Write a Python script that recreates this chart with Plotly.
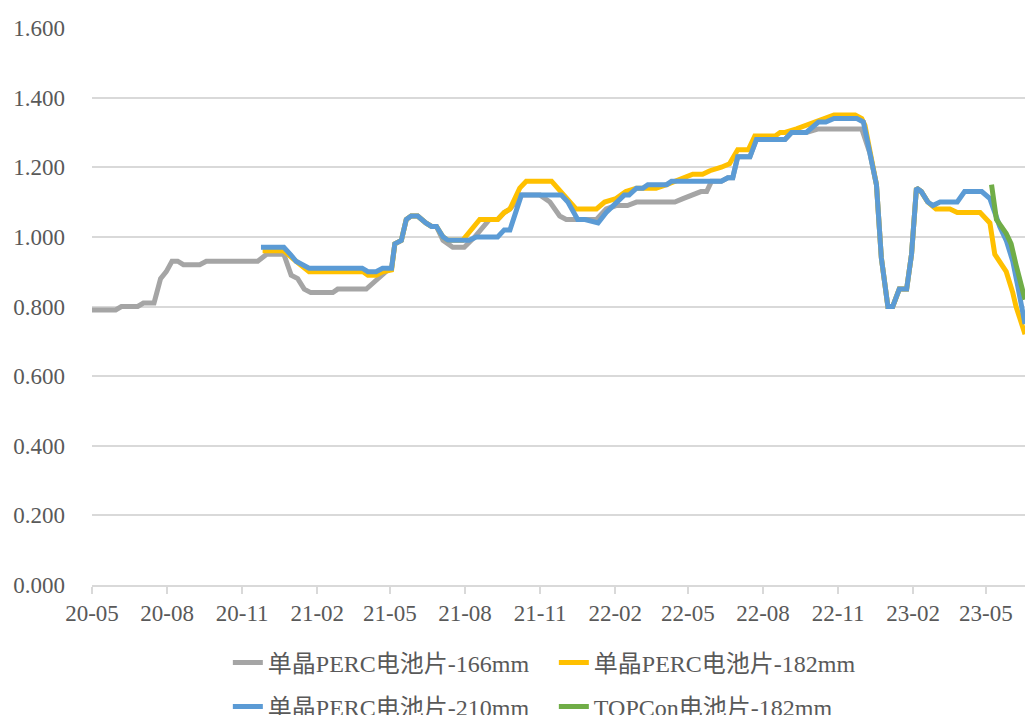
import plotly.graph_objects as go

# ---------------- data (weekly prices) ----------------
dates_166 = ["2020-05-01", "2020-05-30", "2020-06-06", "2020-06-26", "2020-07-03", "2020-07-16",
             "2020-07-24", "2020-07-31", "2020-08-07", "2020-08-14", "2020-08-21", "2020-09-10",
             "2020-09-18", "2020-11-20", "2020-12-01", "2020-12-22", "2020-12-31", "2021-01-08",
             "2021-01-16", "2021-01-24", "2021-02-20", "2021-02-26", "2021-04-02", "2021-04-12",
             "2021-04-20", "2021-04-26", "2021-05-03", "2021-05-07", "2021-05-15", "2021-05-21",
             "2021-05-27", "2021-06-04", "2021-06-14", "2021-06-21", "2021-06-27", "2021-07-05",
             "2021-07-17", "2021-07-31", "2021-08-13", "2021-08-23", "2021-08-31", "2021-09-10",
             "2021-09-18", "2021-09-25", "2021-10-09", "2021-11-01", "2021-11-13", "2021-11-25",
             "2021-12-03", "2022-01-09", "2022-01-21", "2022-02-02", "2022-02-16", "2022-02-27",
             "2022-04-15", "2022-04-25", "2022-05-07", "2022-05-17", "2022-05-24", "2022-05-30",
             "2022-06-11", "2022-06-19", "2022-06-25", "2022-07-01", "2022-07-16", "2022-07-24",
             "2022-08-28", "2022-09-05", "2022-09-23", "2022-10-08", "2022-11-30", "2022-12-10",
             "2022-12-18", "2022-12-24", "2023-01-01", "2023-01-07", "2023-01-15", "2023-01-24",
             "2023-01-30", "2023-02-05", "2023-02-11", "2023-02-19"]
perc_166 = [0.79, 0.79, 0.80, 0.80, 0.81, 0.81,
            0.88, 0.90, 0.93, 0.93, 0.92, 0.92,
            0.93, 0.93, 0.95, 0.95, 0.89, 0.88,
            0.85, 0.84, 0.84, 0.85, 0.85, 0.87,
            0.89, 0.90, 0.91, 0.98, 0.99, 1.05,
            1.06, 1.06, 1.04, 1.03, 1.03, 0.99,
            0.97, 0.97, 1.00, 1.03, 1.05, 1.05,
            1.07, 1.08, 1.12, 1.12, 1.10, 1.06,
            1.05, 1.05, 1.08, 1.09, 1.09, 1.10,
            1.10, 1.11, 1.12, 1.13, 1.13, 1.16,
            1.16, 1.17, 1.17, 1.23, 1.23, 1.28,
            1.28, 1.30, 1.30, 1.31, 1.31, 1.24,
            1.15, 0.94, 0.80, 0.80, 0.85, 0.85,
            0.95, 1.14, 1.13, 1.10]

dates_182 = ["2020-11-26", "2020-12-22", "2021-01-06", "2021-01-22", "2021-03-29", "2021-04-04",
             "2021-04-14", "2021-04-22", "2021-05-03", "2021-05-07", "2021-05-15", "2021-05-21",
             "2021-05-27", "2021-06-04", "2021-06-14", "2021-06-21", "2021-06-27", "2021-07-05",
             "2021-07-11", "2021-07-29", "2021-08-19", "2021-09-10", "2021-09-18", "2021-09-25",
             "2021-10-07", "2021-10-15", "2021-11-15", "2021-11-23", "2021-12-07", "2021-12-15",
             "2022-01-09", "2022-01-19", "2022-02-02", "2022-02-14", "2022-02-27", "2022-03-23",
             "2022-04-05", "2022-04-25", "2022-05-07", "2022-05-19", "2022-05-28", "2022-06-11",
             "2022-06-21", "2022-07-01", "2022-07-14", "2022-07-22", "2022-08-16", "2022-08-22",
             "2022-08-28", "2022-09-11", "2022-09-23", "2022-10-06", "2022-10-17", "2022-10-27",
             "2022-11-22", "2022-11-30", "2022-12-04", "2022-12-10", "2022-12-18", "2022-12-24",
             "2023-01-01", "2023-01-07", "2023-01-15", "2023-01-24", "2023-01-30", "2023-02-05",
             "2023-02-11", "2023-02-19", "2023-03-01", "2023-03-18", "2023-03-27", "2023-04-24",
             "2023-05-06", "2023-05-12", "2023-05-26", "2023-06-03", "2023-06-07", "2023-06-18"]
perc_182 = [0.96, 0.96, 0.93, 0.90, 0.90, 0.89,
            0.89, 0.90, 0.905, 0.98, 0.99, 1.05,
            1.06, 1.06, 1.04, 1.03, 1.03, 1.00,
            0.99, 0.99, 1.05, 1.05, 1.07, 1.08,
            1.14, 1.16, 1.16, 1.14, 1.10, 1.08,
            1.08, 1.10, 1.11, 1.13, 1.14, 1.14,
            1.15, 1.17, 1.18, 1.18, 1.19, 1.20,
            1.21, 1.25, 1.25, 1.29, 1.29, 1.30,
            1.30, 1.31, 1.32, 1.33, 1.34, 1.35,
            1.35, 1.34, 1.32, 1.24, 1.15, 0.94,
            0.80, 0.80, 0.85, 0.85, 0.95, 1.14,
            1.13, 1.10, 1.08, 1.08, 1.07, 1.07,
            1.04, 0.95, 0.90, 0.84, 0.80, 0.72]

dates_210 = ["2020-11-24", "2020-12-22", "2020-12-30", "2021-01-06", "2021-01-14", "2021-01-22",
             "2021-03-28", "2021-04-04", "2021-04-14", "2021-04-22", "2021-05-03", "2021-05-07",
             "2021-05-15", "2021-05-21", "2021-05-27", "2021-06-04", "2021-06-14", "2021-06-21",
             "2021-06-27", "2021-07-05", "2021-07-11", "2021-08-06", "2021-08-15", "2021-09-10",
             "2021-09-18", "2021-09-25", "2021-10-09", "2021-11-27", "2021-12-05", "2021-12-17",
             "2021-12-26", "2022-01-07", "2022-01-11", "2022-01-21", "2022-02-02", "2022-02-12",
             "2022-02-18", "2022-02-27", "2022-03-07", "2022-03-13", "2022-04-05", "2022-04-11",
             "2022-06-11", "2022-06-19", "2022-06-25", "2022-07-01", "2022-07-16", "2022-07-24",
             "2022-08-28", "2022-09-05", "2022-09-23", "2022-10-08", "2022-10-17", "2022-10-27",
             "2022-11-24", "2022-12-02", "2022-12-10", "2022-12-18", "2022-12-24", "2023-01-01",
             "2023-01-07", "2023-01-15", "2023-01-24", "2023-01-30", "2023-02-05", "2023-02-11",
             "2023-02-19", "2023-02-25", "2023-03-06", "2023-03-27", "2023-04-05", "2023-04-26",
             "2023-05-06", "2023-05-18", "2023-05-26", "2023-06-03", "2023-06-09", "2023-06-18"]
perc_210 = [0.97, 0.97, 0.95, 0.93, 0.92, 0.91,
            0.91, 0.90, 0.90, 0.91, 0.91, 0.98,
            0.99, 1.05, 1.06, 1.06, 1.04, 1.03,
            1.03, 1.00, 0.99, 0.99, 1.00, 1.00,
            1.02, 1.02, 1.12, 1.12, 1.10, 1.05,
            1.05, 1.04, 1.04, 1.07, 1.10, 1.12,
            1.12, 1.14, 1.14, 1.15, 1.15, 1.16,
            1.16, 1.17, 1.17, 1.23, 1.23, 1.28,
            1.28, 1.30, 1.30, 1.33, 1.33, 1.34,
            1.34, 1.33, 1.24, 1.15, 0.94, 0.80,
            0.80, 0.85, 0.85, 0.95, 1.14, 1.13,
            1.10, 1.09, 1.10, 1.10, 1.13, 1.13,
            1.11, 1.03, 0.99, 0.93, 0.86, 0.75]

dates_topcon = ["2023-05-08", "2023-05-14", "2023-05-26", "2023-06-01", "2023-06-07", "2023-06-18"]
topcon_182 = [1.15, 1.05, 1.01, 0.98, 0.92, 0.82]

tick_dates = ["2020-05-01", "2020-08-01", "2020-11-01", "2021-02-01", "2021-05-01", "2021-08-01",
              "2021-11-01", "2022-02-01", "2022-05-01", "2022-08-01", "2022-11-01", "2023-02-01",
              "2023-05-01"]
tick_labels = ["20-05", "20-08", "20-11", "21-02", "21-05", "21-08", "21-11", "22-02", "22-05",
               "22-08", "22-11", "23-02", "23-05"]
y_ticks = [0.0, 0.2, 0.4, 0.6, 0.8, 1.0, 1.2, 1.4, 1.6]

series = [
    ("单晶PERC电池片-166mm", dates_166, perc_166, "#A5A5A5", "legend"),
    ("单晶PERC电池片-182mm", dates_182, perc_182, "#FFC000", "legend"),
    ("单晶PERC电池片-210mm", dates_210, perc_210, "#5B9BD5", "legend2"),
    ("TOPCon电池片-182mm", dates_topcon, topcon_182, "#70AD47", "legend2"),
]

FONT = "Liberation Serif, 'Times New Roman', 'Noto Sans CJK SC', serif"
TXT = "#595959"

fig = go.Figure()
for name, xs, ys, color, lg in series:
    fig.add_trace(go.Scatter(
        x=xs, y=ys, name=name, mode="lines",
        line=dict(color=color, width=5),
        legend=lg,
    ))

legend_common = dict(
    orientation="h",
    font=dict(family=FONT, size=24, color=TXT),
    bgcolor="rgba(0,0,0,0)",
    xanchor="left",
    yanchor="middle",
    x=0.1456,
    entrywidth=281,
    entrywidthmode="pixels",
)

fig.update_layout(
    width=1025, height=730, autosize=False,
    margin=dict(l=92, r=0, t=28, b=145),
    paper_bgcolor="white", plot_bgcolor="white",
    font=dict(family=FONT, size=23, color=TXT),
    showlegend=True,
    legend=dict(**legend_common, y=-0.140),
    legend2=dict(**legend_common, y=-0.219),
    xaxis=dict(
        type="date",
        range=["2020-05-01", "2023-06-18"],
        tickvals=tick_dates, ticktext=tick_labels,
        showgrid=False,
        showline=True, linecolor="#D9D9D9", linewidth=1.5,
        ticks="outside", ticklen=7, tickcolor="#D9D9D9", tickwidth=1.5,
        tickfont=dict(family=FONT, size=23, color=TXT),
        zeroline=False,
    ),
    yaxis=dict(
        range=[0, 1.6],
        tickvals=y_ticks,
        tickformat=".3f",
        showgrid=True, gridcolor="#D9D9D9", gridwidth=1.5,
        zeroline=False, showline=False,
        ticks="", ticklabelstandoff=26,
        tickfont=dict(family=FONT, size=23, color=TXT),
    ),
)

# page without default body margin / scrollbars so the figure sits at the window origin
fig.write_html(
    "out.html",
    config={"displayModeBar": False},
    post_script="document.body.style.margin='0';document.body.style.overflow='hidden';",
)
